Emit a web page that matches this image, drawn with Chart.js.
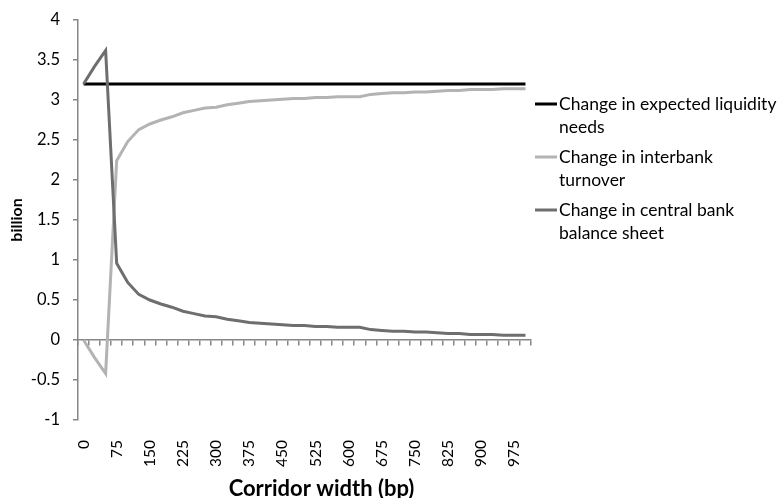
<!DOCTYPE html>
<html>
<head>
<meta charset="utf-8">
<script src="https://cdn.jsdelivr.net/npm/chart.js@4.4.0/dist/chart.umd.min.js"></script>
<style>
  html, body { margin: 0; padding: 0; background: #fff; }
  #chart-box { width: 780px; height: 498px; }
</style>
</head>
<body>
<div id="chart-box"><canvas id="corridor-chart" width="780" height="498"></canvas></div>
<script>
// corridor widths in bp, one category every 25
const corridorWidths = [0, 25, 50, 75, 100, 125, 150, 175, 200, 225, 250, 275, 300, 325, 350, 375, 400, 425, 450, 475, 500,
  525, 550, 575, 600, 625, 650, 675, 700, 725, 750, 775, 800, 825, 850, 875, 900, 925, 950, 975, 1000];
const xTickLabels = ['0', '75', '150', '225', '300', '375', '450', '525', '600', '675', '750', '825', '900', '975'];
const yTickValues = [-1, -0.5, 0, 0.5, 1, 1.5, 2, 2.5, 3, 3.5, 4];
const xAxisTitle = 'Corridor width (bp)';

const seriesNames = ['Change in expected liquidity needs', 'Change in interbank turnover', 'Change in central bank balance sheet'];
const legendLines = [
  ['Change in expected liquidity', 'needs'],
  ['Change in interbank', 'turnover'],
  ['Change in central bank', 'balance sheet']
];

const liquidityNeeds = [3.2, 3.2, 3.2, 3.2, 3.2, 3.2, 3.2, 3.2, 3.2, 3.2, 3.2, 3.2, 3.2, 3.2, 3.2, 3.2, 3.2, 3.2, 3.2, 3.2, 3.2,
  3.2, 3.2, 3.2, 3.2, 3.2, 3.2, 3.2, 3.2, 3.2, 3.2, 3.2, 3.2, 3.2, 3.2, 3.2, 3.2, 3.2, 3.2, 3.2, 3.2];
const interbankTurnover = [0, -0.22, -0.42, 2.24, 2.48, 2.63, 2.70, 2.75, 2.79, 2.84, 2.87,
  2.90, 2.91, 2.94, 2.96, 2.98, 2.99, 3.00, 3.01, 3.02, 3.02,
  3.03, 3.03, 3.04, 3.04, 3.04, 3.07, 3.08, 3.09, 3.09, 3.10,
  3.10, 3.11, 3.12, 3.12, 3.13, 3.13, 3.13, 3.14, 3.14, 3.14];
const centralBankBalance = [3.2, 3.42, 3.62, 0.96, 0.72, 0.57, 0.50, 0.45, 0.41, 0.36, 0.33,
  0.30, 0.29, 0.26, 0.24, 0.22, 0.21, 0.20, 0.19, 0.18, 0.18,
  0.17, 0.17, 0.16, 0.16, 0.16, 0.13, 0.12, 0.11, 0.11, 0.10,
  0.10, 0.09, 0.08, 0.08, 0.07, 0.07, 0.07, 0.06, 0.06, 0.06];

const axisColor = '#868686';
const fontName = 'Lato';

// legend on the right, with the labels broken over two lines like the original
const sideLegend = {
  id: 'sideLegend',
  afterDraw(chart) {
    const ctx = chart.ctx;
    const area = chart.chartArea;
    let y = area.top + 84;
    ctx.save();
    ctx.font = '17.5px ' + fontName;
    ctx.textBaseline = 'middle';
    chart.data.datasets.forEach((ds, i) => {
      ctx.strokeStyle = ds.borderColor;
      ctx.lineWidth = 3;
      ctx.beginPath();
      ctx.moveTo(area.right + 4, y);
      ctx.lineTo(area.right + 26, y);
      ctx.stroke();
      ctx.fillStyle = '#000';
      legendLines[i].forEach((line, j) => {
        ctx.fillText(line, area.right + 28, y + j * 23);
      });
      y += 53;
    });
    ctx.restore();
  }
};

// x title sits a bit right of the plot centre in the original
const xTitle = {
  id: 'xTitle',
  afterDraw(chart) {
    const ctx = chart.ctx;
    const area = chart.chartArea;
    ctx.save();
    ctx.font = 'bold 22px ' + fontName;
    ctx.textAlign = 'center';
    ctx.textBaseline = 'middle';
    ctx.fillStyle = '#000';
    ctx.fillText(xAxisTitle, (area.left + area.right) / 2 + 17, chart.height - 9);
    ctx.restore();
  }
};

const corridorBox = document.querySelector('#corridor-chart');

const corridorData = {
  labels: corridorWidths,
  datasets: [
    {
      label: seriesNames[0],
      data: liquidityNeeds,
      borderColor: '#000000',
      borderWidth: 3,
      pointRadius: 0,
      order: 3
    },
    {
      label: seriesNames[1],
      data: interbankTurnover,
      borderColor: '#b3b3b3',
      borderWidth: 3,
      pointRadius: 0,
      order: 2
    },
    {
      label: seriesNames[2],
      data: centralBankBalance,
      borderColor: '#6e6e6e',
      borderWidth: 3,
      pointRadius: 0,
      order: 1
    }
  ]
};

const corridorOptions = {
  responsive: false,
  animation: false,
  layout: {
    padding: { top: 20, right: 249, bottom: 0, left: 0 }
  },
  plugins: {
    legend: { display: false },
    tooltip: { enabled: false }
  },
  scales: {
    x: {
      offset: true,
      afterFit: s => { s.height = 78; },
      border: { display: false },
      grid: { display: false, drawTicks: false },
      ticks: {
        autoSkip: false,
        minRotation: 90,
        maxRotation: 90,
        padding: 20,
        color: '#000',
        font: { family: fontName, size: 15.5 },
        callback: function (v) {
          const lab = String(this.getLabelForValue(v));
          return xTickLabels.includes(lab) ? lab : '';
        }
      }
    },
    // axis line and tick marks crossing at zero
    x2: {
      type: 'category',
      position: { y: 0 },
      offset: true,
      border: { color: axisColor, width: 1.5 },
      grid: { offset: true, drawOnChartArea: false, color: axisColor, lineWidth: 1.5, tickLength: 5 },
      ticks: { display: false }
    },
    y: {
      min: -1,
      max: 4,
      afterBuildTicks: s => { s.ticks = yTickValues.map(v => ({ value: v })); },
      afterFit: s => {
        s.width = 78;
        // keep the plot top fixed; tick padding would otherwise push it down
        s.paddingTop = 0;
        s.paddingBottom = 0;
      },
      border: { color: axisColor, width: 1.5 },
      grid: { drawOnChartArea: false, color: axisColor, lineWidth: 1.5, tickLength: 5 },
      ticks: {
        color: '#000',
        padding: 13,
        font: { family: fontName, size: 16.5 },
        callback: v => String(v)
      },
      title: {
        display: true,
        text: 'billion',
        color: '#000',
        font: { family: fontName, size: 16, weight: 'bold' },
        padding: { top: 7, bottom: 0 }
      }
    }
  }
};

const corridorChart = new Chart(corridorBox, {
  type: 'line',
  data: corridorData,
  options: corridorOptions,
  plugins: [sideLegend, xTitle]
});
</script>
</body>
</html>
